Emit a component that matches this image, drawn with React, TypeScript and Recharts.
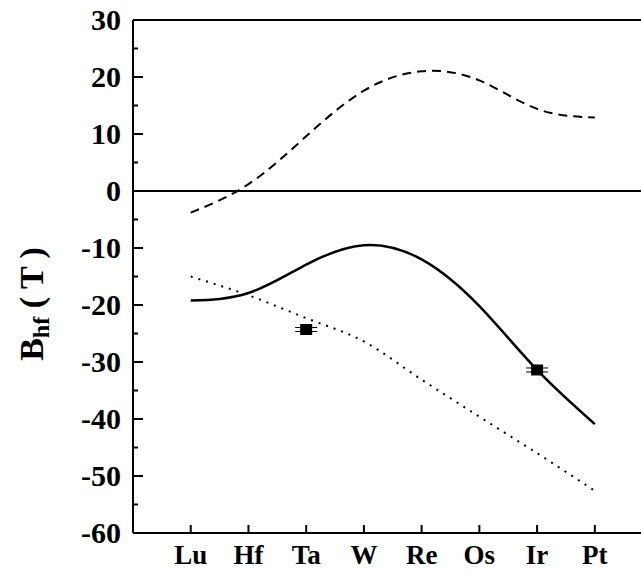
import React from 'react'
import {
  ComposedChart,
  Line,
  Scatter,
  XAxis,
  YAxis,
  ReferenceLine,
} from 'recharts'

const elements = ['Lu', 'Hf', 'Ta', 'W', 'Re', 'Os', 'Ir', 'Pt']
const dashedVals = [-3.8, 1.2, 9.6, 17.6, 21.0, 19.4, 14.4, 12.9]
const solidVals = [-19.2, -17.9, -12.9, -9.5, -12.0, -20.2, -31.4, -40.9]
const dottedVals = [-15.0, -18.3, -22.3, -26.4, -33.1, -39.6, -46.0, -52.6]
const measuredElements = ['Ta', 'Ir']
const measuredVals = [-24.3, -31.4]
const yTicks = [-60, -55, -50, -45, -40, -35, -30, -25, -20, -15, -10, -5, 0, 5, 10, 15, 20, 25, 30]
const xTicks = [1, 2, 3, 4, 5, 6, 7, 8]

const FONT = '"Liberation Serif", "Times New Roman", serif'

// rows keyed by position along the x axis (Lu = 1)
const rows = elements.map((el, i) => ({
  pos: i + 1,
  dashed: dashedVals[i],
  solid: solidVals[i],
  dotted: dottedVals[i],
}))

const measured = measuredElements.map((el, i) => ({
  pos: elements.indexOf(el) + 1,
  val: measuredVals[i],
}))

function YTick({ x, y, payload }: any) {
  const v = payload.value
  const major = v % 10 === 0
  return (
    <g>
      <line x1={x} x2={x + (major ? 10 : 5)} y1={y} y2={y} stroke="#000" strokeWidth={2} />
      {major && (
        <text x={x - 12} y={y + 10} textAnchor="end" fontFamily={FONT} fontWeight="bold" fontSize={30} fill="#000">
          {v}
        </text>
      )}
    </g>
  )
}

function XTick({ x, y, payload }: any) {
  return (
    <g>
      <line x1={x} x2={x} y1={y} y2={y - 8} stroke="#000" strokeWidth={2} />
      <text x={x} y={y + 31} textAnchor="middle" fontFamily={FONT} fontWeight="bold" fontSize={27} fill="#000">
        {elements[payload.value - 1]}
      </text>
    </g>
  )
}

function MeasuredMark({ cx, cy }: any) {
  return (
    <g>
      <rect x={cx - 6} y={cy - 5.5} width={12} height={11} fill="#000" />
      <line x1={cx - 11} x2={cx + 11} y1={cy - 2} y2={cy - 2} stroke="#000" strokeWidth={1} />
      <line x1={cx - 11} x2={cx + 11} y1={cy + 2} y2={cy + 2} stroke="#000" strokeWidth={1} />
    </g>
  )
}

function YLabel() {
  return (
    <text
      transform="translate(43,304) rotate(-90)"
      textAnchor="middle"
      fontFamily={FONT}
      fontWeight="bold"
      fontSize={34}
      fill="#000"
    >
      <tspan>B</tspan>
      <tspan dy={6} fontSize={24}>hf</tspan>
      <tspan dy={-6}> ( T )</tspan>
    </text>
  )
}

export default function App() {
  return (
    <div style={{ position: 'fixed', left: 0, top: 0, background: '#fff' }}>
      <ComposedChart width={641} height={571} data={rows} margin={{ top: 20, right: 0, bottom: 0, left: 0 }}>
        <XAxis
          dataKey="pos"
          type="number"
          domain={[0, 8.8]}
          ticks={xTicks}
          height={38}
          tickSize={0}
          tickMargin={0}
          tickLine={false}
          axisLine={{ stroke: '#000', strokeWidth: 2 }}
          tick={<XTick />}
          allowDataOverflow
        />
        <YAxis
          type="number"
          domain={[-60, 30]}
          ticks={yTicks}
          width={133}
          tickSize={0}
          tickMargin={0}
          tickLine={false}
          interval={0}
          axisLine={{ stroke: '#000', strokeWidth: 2 }}
          tick={<YTick />}
          label={{ content: () => <YLabel /> }}
          allowDataOverflow
        />
        <ReferenceLine y={30} stroke="#000" strokeWidth={2} />
        <ReferenceLine y={0} stroke="#000" strokeWidth={2} />
        <Line
          type="natural"
          dataKey="dashed"
          stroke="#000"
          strokeWidth={2}
          strokeDasharray="9 6"
          dot={false}
          isAnimationActive={false}
        />
        <Line
          type="natural"
          dataKey="solid"
          stroke="#000"
          strokeWidth={2.5}
          dot={false}
          isAnimationActive={false}
        />
        <Line
          type="monotone"
          dataKey="dotted"
          stroke="#000"
          strokeWidth={2}
          strokeDasharray="2 6"
          dot={false}
          isAnimationActive={false}
        />
        <Scatter data={measured} dataKey="val" shape={<MeasuredMark />} isAnimationActive={false} />
      </ComposedChart>
    </div>
  )
}
